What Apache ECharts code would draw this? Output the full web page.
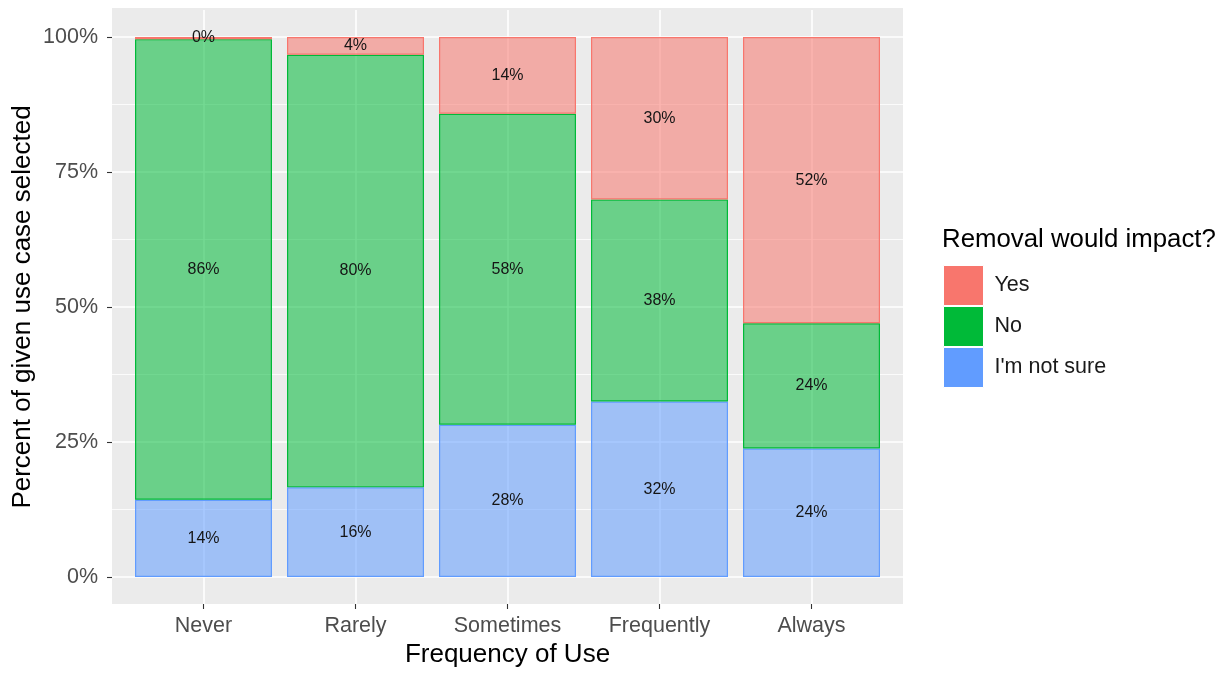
<!DOCTYPE html>
<html>
<head>
<meta charset="utf-8">
<style>
  html, body { margin: 0; padding: 0; background: #ffffff; }
  #chart { width: 1225px; height: 673px; }
</style>
<script src="https://cdn.jsdelivr.net/npm/echarts@6/dist/echarts.min.js"></script>
</head>
<body>
<div id="chart"></div>
<script>
// ---- data ----
const categories = ['Never', 'Rarely', 'Sometimes', 'Frequently', 'Always'];
const notSureValues = [0.143, 0.166, 0.282, 0.325, 0.238];
const noValues      = [0.853, 0.801, 0.576, 0.374, 0.232];
const yesValues     = [0.004, 0.033, 0.142, 0.301, 0.530];
const notSureLabels = ['14%', '16%', '28%', '32%', '24%'];
const noLabels      = ['86%', '80%', '58%', '38%', '24%'];
const yesLabels     = ['0%', '4%', '14%', '30%', '52%'];
const seriesNames   = ['Yes', 'No', "I'm not sure"];
const yTickStep = 0.25;

const FONT = "'Liberation Sans', Arial, sans-serif";
const colYes = '#F8766D', colNo = '#00BA38', colNS = '#619CFF';
const alpha = 0.55;
function rgba(hex, a) {
  const r = parseInt(hex.slice(1, 3), 16), g = parseInt(hex.slice(3, 5), 16), b = parseInt(hex.slice(5, 7), 16);
  return `rgba(${r},${g},${b},${a})`;
}

const chart = echarts.init(document.getElementById('chart'), null, { renderer: 'canvas' });

function barSeries(name, values, labels, color) {
  return {
    name: name,
    type: 'bar',
    stack: 'total',
    xAxisIndex: 1,
    yAxisIndex: 1,
    barWidth: 137,
    clip: false,
    data: values,
    itemStyle: { color: rgba(color, alpha), borderColor: color, borderWidth: 1.2 },
    emphasis: { disabled: true },
    label: {
      show: true,
      position: 'inside',
      formatter: p => labels[p.dataIndex],
      fontFamily: FONT,
      fontSize: 16,
      color: '#151515'
    },
    z: 5
  };
}

const option = {
  animation: false,
  backgroundColor: '#ffffff',
  textStyle: { fontFamily: FONT },
  graphic: {
    elements: [{
      type: 'rect',
      z: -10,
      silent: true,
      shape: { x: 112, y: 8, width: 791, height: 596 },
      style: { fill: '#EBEBEB' }
    }]
  },
  title: {
    text: 'Removal would impact?',
    left: 942,
    top: 227,
    padding: 0,
    textStyle: { fontFamily: FONT, fontSize: 25.8, fontWeight: 'normal', color: '#000000' }
  },
  legend: {
    orient: 'vertical',
    left: 943,
    top: 265,
    padding: 0,
    itemWidth: 40,
    itemHeight: 40,
    itemGap: 0,
    icon: 'rect',
    selectedMode: false,
    textStyle: { fontFamily: FONT, fontSize: 21.5, color: '#1a1a1a', padding: [0, 0, 0, 6] },
    data: [
      { name: seriesNames[0], itemStyle: { color: colYes, opacity: 1, borderColor: '#ffffff', borderWidth: 1 } },
      { name: seriesNames[1], itemStyle: { color: colNo, opacity: 1, borderColor: '#ffffff', borderWidth: 1 } },
      { name: seriesNames[2], itemStyle: { color: colNS, opacity: 1, borderColor: '#ffffff', borderWidth: 1 } }
    ]
  },
  grid: [
    // horizontal grid lines + y labels (0 -> y 577, 1 -> y 37)
    { left: 112, top: 37, width: 791, height: 540, outerBoundsMode: 'none', containLabel: false },
    // bars + vertical grid lines (full panel height, expanded y)
    { left: 203.5, top: 10, width: 608, height: 594, outerBoundsMode: 'none', containLabel: false }
  ],
  xAxis: [
    { gridIndex: 0, type: 'value', show: false, min: 0, max: 1 },
    {
      gridIndex: 1,
      type: 'category',
      data: categories,
      boundaryGap: false,
      position: 'bottom',
      axisLine: { show: false, onZero: false },
      axisTick: { show: true, length: 5, lineStyle: { color: '#333333', width: 1.1 } },
      axisLabel: { fontFamily: FONT, fontSize: 21.5, color: '#4D4D4D', margin: 11, interval: 0 },
      splitLine: { show: true, lineStyle: { color: '#ffffff', width: 1.6 } },
      name: 'Frequency of Use',
      nameLocation: 'middle',
      nameGap: 38,
      nameMoveOverlap: false,
      nameTextStyle: { fontFamily: FONT, fontSize: 26, color: '#000000' }
    }
  ],
  yAxis: [
    {
      gridIndex: 0,
      type: 'value',
      min: 0,
      max: 1,
      interval: yTickStep,
      axisLine: { show: false },
      axisTick: { show: true, length: 5, lineStyle: { color: '#333333', width: 1.1 } },
      axisLabel: { fontFamily: FONT, fontSize: 21.5, color: '#4D4D4D', margin: 14, formatter: v => Math.round(v * 100) + '%' },
      splitLine: { show: true, lineStyle: { color: '#ffffff', width: 1.6 } },
      minorTick: { show: false, splitNumber: 2 },
      minorSplitLine: { show: true, lineStyle: { color: '#ffffff', width: 0.8 } },
      name: 'Percent of given use case selected',
      nameLocation: 'middle',
      nameRotate: 90,
      nameGap: 76,
      nameMoveOverlap: false,
      nameTextStyle: { fontFamily: FONT, fontSize: 26, color: '#000000' }
    },
    { gridIndex: 1, type: 'value', min: -0.05, max: 1.05, show: false }
  ],
  series: [
    barSeries(seriesNames[2], notSureValues, notSureLabels, colNS),
    barSeries(seriesNames[1], noValues, noLabels, colNo),
    barSeries(seriesNames[0], yesValues, yesLabels, colYes)
  ]
};

chart.setOption(option);
</script>
</body>
</html>
